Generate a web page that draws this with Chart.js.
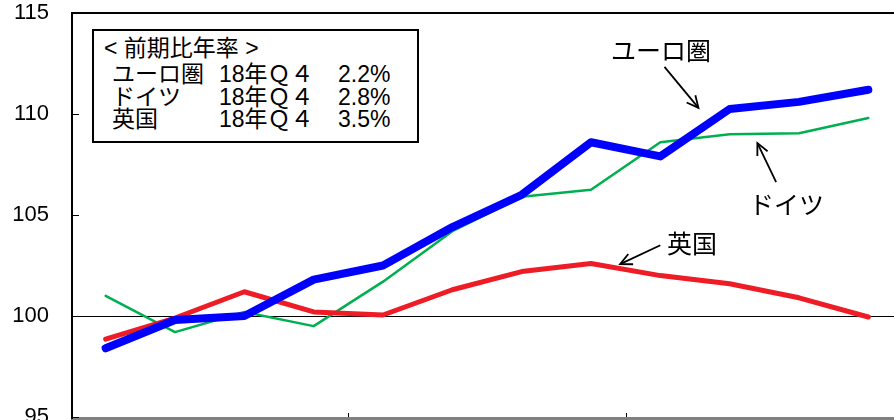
<!DOCTYPE html>
<html><head><meta charset="utf-8">
<script src="https://cdn.jsdelivr.net/npm/chart.js@4/dist/chart.umd.min.js"></script>
<style>
html,body{margin:0;padding:0;background:#fff;}
#wrap{position:relative;width:894px;height:420px;overflow:hidden;background:#fff;}
#c{position:absolute;left:0;top:0;}
.t{position:absolute;white-space:pre;font-family:"Liberation Sans","Noto Sans CJK JP",sans-serif;color:#000;line-height:24px;}
.lg{font-size:23px;}
.an{font-size:25px;font-family:"Noto Sans CJK JP",sans-serif;line-height:28px;}
#box{position:absolute;left:92px;top:29px;width:327px;height:114px;box-sizing:border-box;border:2px solid #000;background:#fff;}
</style></head>
<body>
<div id="wrap">
<canvas id="c" width="910" height="460"></canvas>
<div id="box"></div>
<div class="t lg" style="left:104px;top:36px;">&lt; 前期比年率 &gt;</div>
<div class="t lg" id="r0a" style="left:112px;top:62px;"></div>
<div class="t lg" id="r0b" style="left:219px;top:62px;"></div>
<div class="t lg" id="r0c" style="left:338px;top:62px;"></div>
<div class="t lg" id="r1a" style="left:112px;top:85px;"></div>
<div class="t lg" id="r1b" style="left:219px;top:85px;"></div>
<div class="t lg" id="r1c" style="left:338px;top:85px;"></div>
<div class="t lg" id="r2a" style="left:112px;top:107px;"></div>
<div class="t lg" id="r2b" style="left:219px;top:107px;"></div>
<div class="t lg" id="r2c" style="left:338px;top:107px;"></div>
<div class="t an" style="left:611px;top:35px;">ユーロ圏</div>
<div class="t an" style="left:749px;top:189px;">ドイツ</div>
<div class="t an" style="left:667px;top:228px;">英国</div>
</div>
<script>
// ---- data ----
const categories = ['16Q1','16Q2','16Q3','16Q4','17Q1','17Q2','17Q3','17Q4','18Q1','18Q2','18Q3','18Q4'];
const euroArea = [98.4, 99.8, 100.0, 101.8, 102.5, 104.4, 106.0, 108.6, 107.9, 110.25, 110.6, 111.2];
const germany  = [101.0, 99.2, 100.2, 99.5, 101.7, 104.2, 105.9, 106.25, 108.6, 109.0, 109.05, 109.8];
const uk       = [98.85, 99.9, 101.2, 100.2, 100.05, 101.3, 102.2, 102.6, 102.0, 101.6, 100.9, 99.95];
const yMin = 95, yMax = 115, yStep = 5;
const legendNames = ['ユーロ圏','ドイツ','英国'];
const legendPeriods = ['18年Ｑ４','18年Ｑ４','18年Ｑ４'];
const legendRates = ['2.2%','2.8%','3.5%'];
// annotation arrows in data coordinates [index, value]
const arrows = [
  {from:[8.06,112.33], to:[8.55,110.3]},
  {from:[9.67,106.63], to:[9.40,108.56]},
  {from:[8.0,103.5],   to:[7.42,102.57]}
];

legendNames.forEach((n,i)=>{
  document.getElementById('r'+i+'a').textContent = n;
  document.getElementById('r'+i+'b').textContent = legendPeriods[i];
  document.getElementById('r'+i+'c').textContent = legendRates[i];
});

const decor = {
  id:'decor',
  afterDraw(chart){
    const ctx = chart.ctx, ca = chart.chartArea, xs = chart.scales.x, ys = chart.scales.y;
    const px = i => xs.getPixelForValue(i);
    ctx.save();
    // bottom axis
    ctx.strokeStyle = '#808080'; ctx.lineWidth = 3;
    ctx.beginPath(); ctx.moveTo(ca.left, ca.bottom+1.5); ctx.lineTo(chart.width, ca.bottom+1.5); ctx.stroke();
    // frame top + left
    ctx.strokeStyle = '#000'; ctx.lineWidth = 2;
    ctx.beginPath(); ctx.moveTo(ca.left+1, ca.bottom+2); ctx.lineTo(ca.left+1, ca.top); ctx.lineTo(chart.width, ca.top); ctx.stroke();
    // y ticks (inward)
    ctx.lineWidth = 1;
    for (let v = yMin; v <= yMax; v += yStep) {
      const y = Math.round(ys.getPixelForValue(v)) + 0.5;
      ctx.beginPath(); ctx.moveTo(ca.left+1, y); ctx.lineTo(ca.left+8, y); ctx.stroke();
    }
    // x ticks at year boundaries
    for (let i = 3.5; i < categories.length; i += 4) {
      const x = Math.round(px(i)) + 0.5;
      ctx.beginPath(); ctx.moveTo(x, ca.bottom); ctx.lineTo(x, ca.bottom-4); ctx.stroke();
    }
    // arrows
    ctx.lineWidth = 1.8; ctx.strokeStyle = '#000';
    arrows.forEach(a=>{
      const x1 = px(a.from[0]), y1 = ys.getPixelForValue(a.from[1]);
      const x2 = px(a.to[0]), y2 = ys.getPixelForValue(a.to[1]);
      const ang = Math.atan2(y2-y1, x2-x1), L = 13, w = 0.45;
      ctx.beginPath(); ctx.moveTo(x1,y1); ctx.lineTo(x2,y2); ctx.stroke();
      ctx.beginPath();
      ctx.moveTo(x2 - L*Math.cos(ang-w), y2 - L*Math.sin(ang-w));
      ctx.lineTo(x2, y2);
      ctx.lineTo(x2 - L*Math.cos(ang+w), y2 - L*Math.sin(ang+w));
      ctx.stroke();
    });
    ctx.restore();
  }
};

new Chart(document.getElementById('c'), {
  type:'line',
  data:{
    labels: categories,
    datasets:[
      {label:'ユーロ圏', data: euroArea, borderColor:'#0000FF', borderWidth:8, order:0},
      {label:'英国', data: uk, borderColor:'#EE1C25', borderWidth:5, order:1},
      {label:'ドイツ', data: germany, borderColor:'#00B050', borderWidth:2.5, order:2}
    ]
  },
  options:{
    responsive:false, animation:false, devicePixelRatio:1,
    layout:{padding:{top:13,right:7,left:0,bottom:0}},
    elements:{point:{radius:0,hoverRadius:0}, line:{tension:0, borderCapStyle:'round', borderJoinStyle:'round', fill:false}},
    plugins:{legend:{display:false}, tooltip:{enabled:false}},
    scales:{
      x:{type:'category', offset:true,
         grid:{display:false, drawTicks:false}, border:{display:false},
         ticks:{display:false},
         afterFit(s){ s.height = 43; s.paddingLeft = 0; s.paddingRight = 0; }},
      y:{min:yMin, max:yMax,
         ticks:{stepSize:yStep, color:'#000', padding:22, font:{family:'"Liberation Sans", Arial, sans-serif', size:22}},
         grid:{drawTicks:false, lineWidth:1, color:c => (c.tick && c.tick.value === 100) ? '#000' : 'rgba(0,0,0,0)'},
         border:{display:false},
         afterFit(s){ s.width = 71; s.paddingTop = 0; s.paddingBottom = 0; }}
    }
  },
  plugins:[decor]
});
</script>
</body></html>
